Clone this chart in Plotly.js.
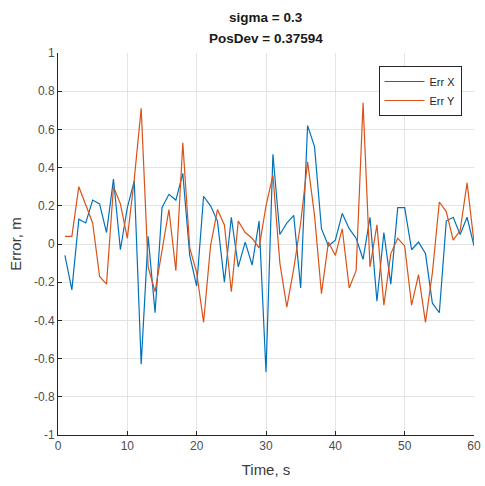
<!DOCTYPE html>
<html>
<head>
<meta charset="utf-8">
<script src="https://cdn.plot.ly/plotly-3.0.1.min.js"></script>
<style>
  html, body { margin: 0; padding: 0; background: #fff; }
  #errPlot { width: 485px; height: 486px; }
</style>
</head>
<body>
<div id="errPlot"></div>
<script>
// time samples, one per second
var timeS = [];
for (var t = 1; t <= 60; t++) timeS.push(t);

// error in X
var errX = [
  -0.06, -0.24, 0.13, 0.11, 0.23, 0.21, 0.06, 0.34, -0.03, 0.19,
  0.33, -0.63, 0.04, -0.36, 0.19, 0.26, 0.23, 0.37, -0.06, -0.22,
  0.25, 0.20, 0.12, -0.20, 0.14, -0.12, 0.01, -0.11, 0.12, -0.67,
  0.47, 0.05, 0.11, 0.15, -0.23, 0.62, 0.51, 0.08, -0.01, 0.02,
  0.16, 0.08, 0.03, -0.08, 0.14, -0.30, 0.06, -0.21, 0.19, 0.19,
  -0.03, 0.01, -0.05, -0.31, -0.36, 0.12, 0.14, 0.05, 0.14, -0.01
];

// error in Y
var errY = [
  0.04, 0.04, 0.30, 0.21, 0.11, -0.17, -0.21, 0.30, 0.21, 0.03,
  0.34, 0.71, -0.12, -0.25, -0.04, 0.18, -0.14, 0.53, -0.02, -0.15,
  -0.41, -0.01, 0.18, 0.10, -0.25, 0.12, 0.06, 0.03, -0.02, 0.20,
  0.36, -0.10, -0.33, -0.13, 0.11, 0.43, 0.15, -0.26, 0.01, -0.06,
  0.08, -0.23, -0.14, 0.74, -0.12, 0.10, -0.32, -0.05, 0.03, -0.01,
  -0.32, -0.16, -0.41, -0.15, 0.22, 0.17, 0.02, 0.07, 0.32, 0.01
];

var xTicks = [0, 10, 20, 30, 40, 50, 60];
var yTicks = [-1, -0.8, -0.6, -0.4, -0.2, 0, 0.2, 0.4, 0.6, 0.8, 1];
var yTickText = ["-1", "-0.8", "-0.6", "-0.4", "-0.2", "0", "0.2", "0.4", "0.6", "0.8", "1"];
var titleLines = ["sigma = 0.3", "PosDev = 0.37594"];

function plotErrors() {
  var traceX = {
    x: timeS,
    y: errX,
    mode: "lines",
    type: "scatter",
    name: "Err X",
    line: { color: "#0072BD", width: 1.2 }
  };
  var traceY = {
    x: timeS,
    y: errY,
    mode: "lines",
    type: "scatter",
    name: "Err Y",
    line: { color: "#D95319", width: 1.2 }
  };
  var fam = "Liberation Sans, Arial, sans-serif";
  var axisFont = { family: fam, size: 12, color: "#4d4d4d" };
  var titleFont = { family: fam, size: 13.5, color: "#1a1a1a" };
  // two title lines, placed as annotations so the line gap matches
  var titleAnn = titleLines.map(function (txt, i) {
    return {
      text: "<b>" + txt + "</b>",
      xref: "paper",
      yref: "paper",
      x: 0.5,
      xanchor: "center",
      y: 1 + (36 - 21 * i) / 382,
      yanchor: "middle",
      showarrow: false,
      font: titleFont
    };
  });
  var layout = {
    width: 485,
    height: 486,
    margin: { l: 58, r: 11, t: 53, b: 51 },
    paper_bgcolor: "#ffffff",
    plot_bgcolor: "#ffffff",
    showlegend: true,
    font: { family: fam, color: "#262626" },
    annotations: titleAnn,
    xaxis: {
      range: [0, 60],
      tickvals: xTicks,
      ticks: "inside",
      ticklen: 4,
      tickcolor: "#262626",
      showline: true,
      linecolor: "#262626",
      linewidth: 1,
      showgrid: true,
      gridcolor: "#e3e3e3",
      zeroline: false,
      tickfont: axisFont,
      title: {
        text: "Time, s",
        font: { family: fam, size: 15, color: "#3a3a3a" },
        standoff: 12
      }
    },
    yaxis: {
      range: [-1, 1],
      tickvals: yTicks,
      ticktext: yTickText,
      ticks: "inside",
      ticklen: 4,
      tickcolor: "#262626",
      showline: true,
      linecolor: "#262626",
      linewidth: 1,
      showgrid: true,
      gridcolor: "#e3e3e3",
      zeroline: false,
      tickfont: axisFont,
      title: {
        text: "Error, m",
        font: { family: fam, size: 15, color: "#3a3a3a" },
        standoff: 8
      }
    },
    legend: {
      x: 0.97,
      xanchor: "right",
      y: 0.966,
      yanchor: "top",
      bgcolor: "#ffffff",
      bordercolor: "#262626",
      borderwidth: 1,
      itemwidth: 40,
      font: { family: fam, size: 11, color: "#262626" },
      tracegroupgap: 0
    }
  };
  Plotly.newPlot("errPlot", [traceX, traceY], layout, { staticPlot: true, displayModeBar: false });
}
plotErrors();
</script>
</body>
</html>
